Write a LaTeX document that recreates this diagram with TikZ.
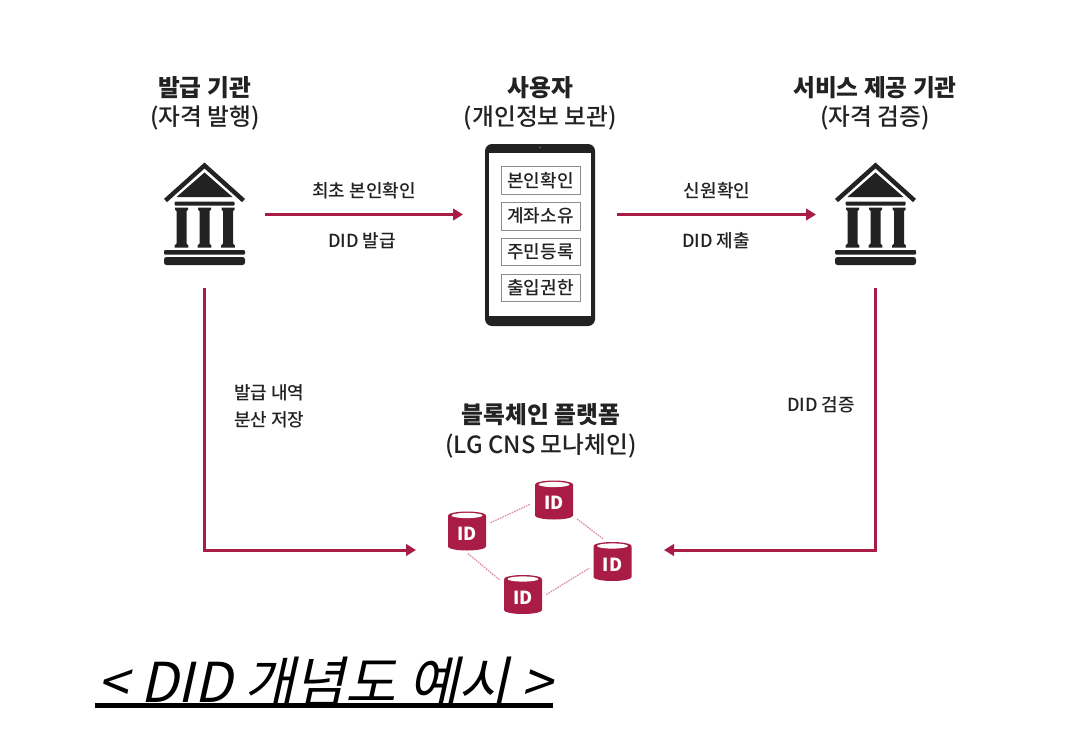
\documentclass[tikz,border=0pt]{standalone}
\usepackage{fontspec}
\setmainfont{Noto Sans CJK KR}
\newfontfamily\capfont[FakeSlant=0.22]{Noto Sans CJK KR}
\newfontfamily\medfont{Noto Sans CJK KR Medium}
\usetikzlibrary{arrows.meta}
\definecolor{crim}{HTML}{A81C45}
\definecolor{ink}{HTML}{222222}
\definecolor{pale}{HTML}{D98CA4}
\tikzset{
  head/.style={font=\bfseries\fontsize{23.7}{23.7}\selectfont,text=ink,inner sep=0pt},
  sub/.style={font=\medfont\fontsize{23.7}{23.7}\selectfont,text=ink,inner sep=0pt},
  lab/.style={font=\medfont\fontsize{18}{18}\selectfont,text=ink,inner sep=0pt},
  flow/.style={draw=crim,line width=3pt,-{Triangle[length=10pt,width=11.5pt]}},
  link/.style={draw=pale,line width=1.2pt,dash pattern=on 1.6pt off 1pt,shorten <=5pt,shorten >=5pt},
  slot/.style={draw=black!45,line width=0.9pt,fill=white,minimum width=79pt,minimum height=27.5pt,inner sep=0pt,font=\medfont\fontsize{18}{18}\selectfont,text=ink},
  ghost/.style={inner sep=0pt,outer sep=0pt},
}
\newcommand{\bankicon}[2]{%
  \node[ghost,minimum width=81pt,minimum height=103pt] (#1) at (#2,214.5) {};
  \begin{scope}[shift={(#2-204.5,0)},fill=ink,draw=ink]
    \draw[line width=4.4pt,miter limit=10] (165.5,200.5) -- (204.5,165.5) -- (243.5,200.5);
    \fill (204.5,172.5) -- (232.5,197) -- (176.5,197) -- cycle;
    \fill[rounded corners=1pt] (174.5,201.5) rectangle (234.5,205.5);
    \foreach \c in {181.5,204.5,228} {
      \fill[shift={(\c,0)}] (-6.5,207.5) -- (6.5,207.5) -- (6.5,209.5) -- (5,211) -- (5,243.5) -- (6.8,245.5) -- (6.8,247.5) -- (-6.8,247.5) -- (-6.8,245.5) -- (-5,243.5) -- (-5,211) -- (-6.5,209.5) -- cycle;
    }
    \fill[rounded corners=1pt] (164,250) rectangle (245,254.5);
    \fill[rounded corners=2.5pt] (164,257) rectangle (245,265);
  \end{scope}
}
\newcommand{\idcan}[3]{%
  \node[ghost,minimum width=38pt,minimum height=39pt] (#1) at (#2,#3) {};
  \begin{scope}[shift={(#2,#3)}]
    \fill[crim] (-19,-15) -- (-19,15.5) arc[start angle=180,end angle=0,x radius=19,y radius=4] -- (19,-15) -- cycle;
    \fill[crim] (0,-15.5) circle[x radius=19,y radius=4];
    \fill[white] (0,-15.5) circle[x radius=15.5,y radius=2.6];
    \node[inner sep=0pt,text=white,font=\bfseries\fontsize{18}{18}\selectfont] at (0,3) {ID};
  \end{scope}
}
\begin{document}
\begin{tikzpicture}[x=1pt,y=-1pt]
\useasboundingbox (0,0) rectangle (1065,747);
\fill[white] (0,0) rectangle (1065,747);

% headings
\node[head] (h1) at (204.5,88) {발급 기관};
\node[sub]  (s1) at (205,118) {(자격 발행)};
\node[head] (h2) at (540.5,88) {사용자};
\node[sub]  (s2) at (540.5,118) {(개인정보 보관)};
\node[head] (h3) at (875,88) {서비스 제공 기관};
\node[sub]  (s3) at (875,118) {(자격 검증)};
\node[head] (h4) at (541,415) {블록체인 플랫폼};
\node[sub]  (s4) at (541,446) {(LG CNS 모나체인)};

% banks
\bankicon{bankL}{204.5}
\bankicon{bankR}{875.5}

% tablet
\node[ghost,fill=ink,rounded corners=7pt,minimum width=110pt,minimum height=182pt] (tablet) at (540,235) {};
\node[ghost,fill=white,minimum width=102pt,minimum height=163pt] (screen) at (540,234.5) {};
\fill[black!60] (540,147.5) circle[radius=1pt];
\node[slot] (b1) at (540.5,180.5) {본인확인};
\node[slot] (b2) at (540.5,216.2) {계좌소유};
\node[slot] (b3) at (540.5,252) {주민등록};
\node[slot] (b4) at (540.5,288) {출입권한};

% cans
\node[ghost,minimum width=184pt,minimum height=130pt] (chain) at (540,550) {};
\idcan{c1}{467}{531}
\idcan{c2}{554}{500}
\idcan{c3}{612.5}{561.5}
\idcan{c4}{523}{594.5}
\draw[link] (c1.18) -- (c2.186);
\draw[link] (c2.320) -- (c3.105);
\draw[link] (c1.262) -- (c4.150);
\draw[link] (c4.352) -- (c3.192);

% arrows
\draw[flow,shorten <=19.5pt,shorten >=22pt] (bankL.east) -- (bankL.east -| tablet.west);
\draw[flow,shorten <=22pt,shorten >=19pt] (bankR.west -| tablet.east) -- (bankR.west);
\draw[flow,shorten <=21.5pt,shorten >=32pt] (bankL.south) |- (chain.west);
\draw[flow,shorten <=21.5pt,shorten >=32pt] (bankR.south) |- (chain.east);

% labels
\node[lab] (l1) at (364,190.5) {최초 본인확인};
\node[lab] (l2) at (362,241) {DID 발급};
\node[lab] (l3) at (717,190.5) {신원확인};
\node[lab] (l4) at (716,241) {DID 제출};
\node[lab,anchor=west] (l5) at (234,393) {발급 내역};
\node[lab,anchor=west] (l6) at (234,420) {분산 저장};
\node[lab] (l7) at (821,405) {DID 검증};

% caption
\node[inner sep=0pt,anchor=base west,text=black,font=\capfont\fontsize{55}{55}\selectfont] (cap) at (97,702) {< DID 개념도 예시 >};
\fill[black] (95,703) rectangle (553,707.5);
\end{tikzpicture}
\end{document}
